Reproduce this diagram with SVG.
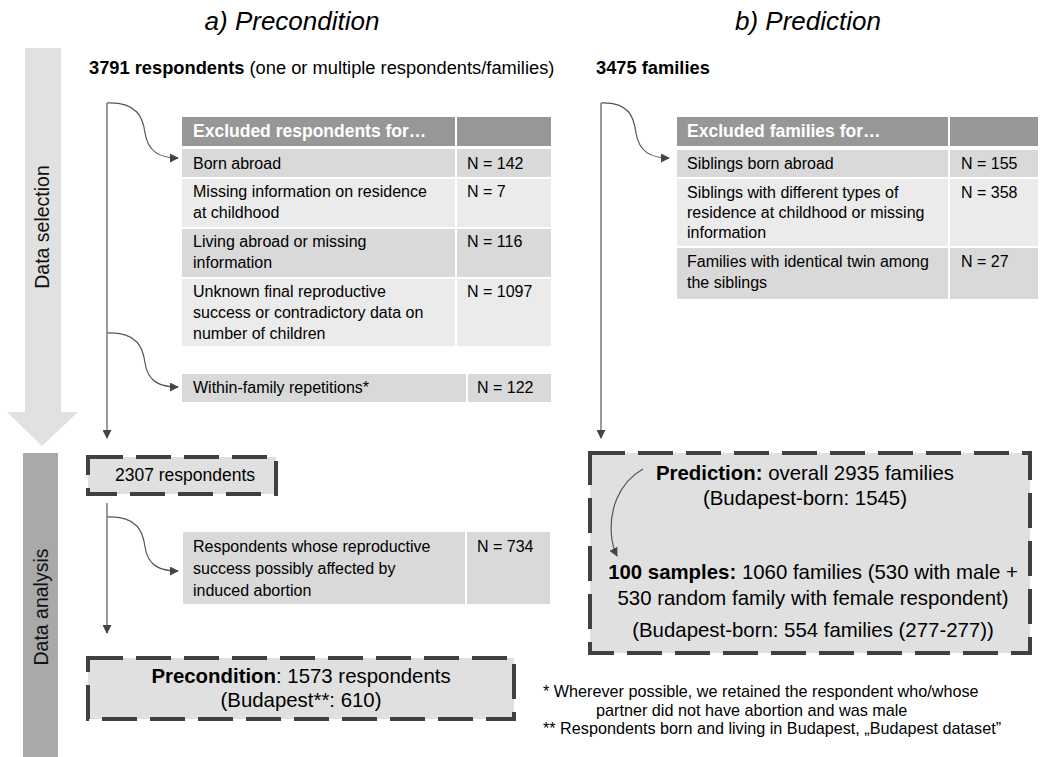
<svg xmlns="http://www.w3.org/2000/svg" width="1043" height="757" viewBox="0 0 1043 757">
<defs>
<style>
text{font-family:"Liberation Sans",Arial,sans-serif;fill:#000}
.title{font-size:26px;font-style:italic}
.hdr{font-size:18.3px}
.b{font-weight:bold}
.cell{font-size:16px}
.th{font-size:17.5px;font-weight:bold;fill:#fff}
.big{font-size:20.4px}
.fn{font-size:16.2px}
.side{font-size:19.5px;fill:#111}
.hd{fill:#979797}
.dk{fill:#d9d9d9}
.lt{fill:#ebebeb}
.dash{fill:#e0e0e0;stroke:#404040;stroke-width:4;stroke-dasharray:35 13}
.con{fill:none;stroke:#555;stroke-width:1.2}
</style>
<marker id="ah" viewBox="0 0 10 10" refX="9" refY="5" markerWidth="9" markerHeight="9" markerUnits="userSpaceOnUse" orient="auto">
<path d="M0,0 L10,5 L0,10 z" fill="#444"/>
</marker>
</defs>
<rect width="1043" height="757" fill="#fff"/>

<g id="titles">
<text class="title" x="292" y="30" text-anchor="middle">a) Precondition</text>
<text class="title" x="808" y="30" text-anchor="middle">b) Prediction</text>
</g>

<g id="phase-selection">
<rect x="25" y="48" width="36" height="364" fill="#e1e1e1"/>
<polygon points="7,412 78,412 42,446" fill="#e1e1e1"/>
<text class="side" transform="translate(49,227) rotate(-90)" text-anchor="middle">Data selection</text>
</g>
<g id="phase-analysis">
<rect x="23" y="453" width="35" height="304" fill="#a9a9a9"/>
<text class="side" transform="translate(48,607) rotate(-90)" text-anchor="middle">Data analysis</text>
</g>

<g id="start-respondents">
<text class="hdr" x="89" y="74"><tspan class="b">3791 respondents</tspan> (one or multiple respondents/families)</text>
</g>
<g id="start-families">
<text class="hdr" x="596" y="74"><tspan class="b">3475 families</tspan></text>
</g>

<g id="table-respondents">
<rect class="hd" x="182" y="117" width="273" height="29"/>
<rect class="hd" x="457" y="117" width="94" height="29"/>
<text class="th" x="193" y="137">Excluded respondents for…</text>
<rect class="dk" x="182" y="149" width="273" height="28"/>
<rect class="dk" x="457" y="149" width="94" height="28"/>
<text class="cell" x="193" y="169">Born abroad</text>
<text class="cell" x="467" y="169">N = 142</text>
<rect class="lt" x="182" y="179" width="273" height="48"/>
<rect class="lt" x="457" y="179" width="94" height="48"/>
<text class="cell" x="193" y="197">Missing information on residence</text>
<text class="cell" x="193" y="218">at childhood</text>
<text class="cell" x="467" y="197">N = 7</text>
<rect class="dk" x="182" y="229" width="273" height="48"/>
<rect class="dk" x="457" y="229" width="94" height="48"/>
<text class="cell" x="193" y="247">Living abroad or missing</text>
<text class="cell" x="193" y="268">information</text>
<text class="cell" x="467" y="247">N = 116</text>
<rect class="lt" x="182" y="279" width="273" height="67"/>
<rect class="lt" x="457" y="279" width="94" height="67"/>
<text class="cell" x="193" y="297">Unknown final reproductive</text>
<text class="cell" x="193" y="318">success or contradictory data on</text>
<text class="cell" x="193" y="339">number of children</text>
<text class="cell" x="467" y="297">N = 1097</text>
</g>

<g id="table-repetitions">
<rect class="dk" x="182" y="374" width="284" height="28"/>
<rect class="dk" x="468" y="374" width="83" height="28"/>
<text class="cell" x="193" y="393">Within-family repetitions*</text>
<text class="cell" x="477" y="393">N = 122</text>
</g>

<g id="table-families">
<rect class="hd" x="677" y="117" width="271" height="29"/>
<rect class="hd" x="950" y="117" width="88" height="29"/>
<text class="th" x="687" y="137">Excluded families for…</text>
<rect class="dk" x="677" y="150" width="271" height="27"/>
<rect class="dk" x="950" y="150" width="88" height="27"/>
<text class="cell" x="687" y="169">Siblings born abroad</text>
<text class="cell" x="961" y="169">N = 155</text>
<rect class="lt" x="677" y="179" width="271" height="67"/>
<rect class="lt" x="950" y="179" width="88" height="67"/>
<text class="cell" x="687" y="198">Siblings with different types of</text>
<text class="cell" x="687" y="218">residence at childhood or missing</text>
<text class="cell" x="687" y="238">information</text>
<text class="cell" x="961" y="198">N = 358</text>
<rect class="dk" x="677" y="248" width="271" height="51"/>
<rect class="dk" x="950" y="248" width="88" height="51"/>
<text class="cell" x="687" y="267">Families with identical twin among</text>
<text class="cell" x="687" y="288">the siblings</text>
<text class="cell" x="961" y="267">N = 27</text>
</g>

<g id="box-2307">
<rect class="dash" x="88" y="457" width="188" height="37"/>
<text x="185" y="481" text-anchor="middle" style="font-size:17.5px">2307 respondents</text>
</g>

<g id="table-abortion">
<rect class="dk" x="183" y="532" width="282" height="72"/>
<rect class="dk" x="467" y="532" width="83" height="72"/>
<text class="cell" x="193" y="552">Respondents whose reproductive</text>
<text class="cell" x="193" y="574">success possibly affected by</text>
<text class="cell" x="193" y="596">induced abortion</text>
<text class="cell" x="477" y="552">N = 734</text>
</g>

<g id="box-precondition">
<rect class="dash" x="88" y="658" width="426" height="61"/>
<text class="big" x="301" y="683" text-anchor="middle"><tspan class="b">Precondition</tspan>: 1573 respondents</text>
<text class="big" x="301" y="707" text-anchor="middle">(Budapest**: 610)</text>
</g>

<g id="box-prediction">
<rect class="dash" x="590" y="453" width="440" height="200"/>
<text class="big" x="805" y="480" text-anchor="middle"><tspan class="b">Prediction:</tspan> overall 2935 families</text>
<text class="big" x="805" y="505" text-anchor="middle">(Budapest-born: 1545)</text>
<text class="big" x="813" y="579" text-anchor="middle"><tspan class="b">100 samples:</tspan> 1060 families (530 with male +</text>
<text class="big" x="813" y="605" text-anchor="middle">530 random family with female respondent)</text>
<text class="big" x="813" y="637" text-anchor="middle">(Budapest-born: 554 families (277-277))</text>
</g>

<g id="footnotes">
<text class="fn" x="543" y="697">* Wherever possible, we retained the respondent who/whose</text>
<text class="fn" x="596" y="716">partner did not have abortion and was male</text>
<text class="fn" x="543" y="734">** Respondents born and living in Budapest, „Budapest dataset”</text>
</g>

<g id="connectors">
<path class="con" d="M107,103 L107,438" marker-end="url(#ah)"/>
<path class="con" d="M107,103 C138,102 143,118 145,133 C148,152 160,158 178,158" marker-end="url(#ah)"/>
<path class="con" d="M107,333 C138,332 143,348 145,363 C148,382 160,387 178,387" marker-end="url(#ah)"/>
<path class="con" d="M601,103 L601,438" marker-end="url(#ah)"/>
<path class="con" d="M601,103 C630,102 634,118 636,133 C639,152 651,158 669,158" marker-end="url(#ah)"/>
<path class="con" d="M107,503 L107,633" marker-end="url(#ah)"/>
<path class="con" d="M107,517 C138,516 143,532 145,547 C148,566 160,571 178,571" marker-end="url(#ah)"/>
<path class="con" d="M643,469 C618,483 608,512 612,540 C613,547 615,552 617,556" marker-end="url(#ah)"/>
</g>
</svg>
